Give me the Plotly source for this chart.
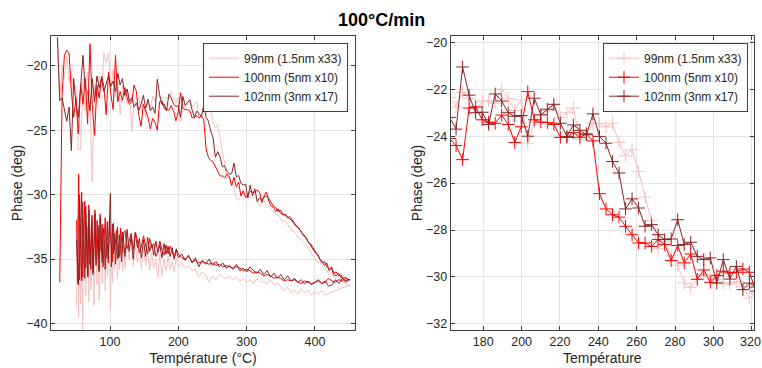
import plotly.graph_objects as go

# ---------------- data ----------------
SERIES = ["99nm (1.5nm x33)", "100nm (5nm x10)", "102nm (3nm x17)"]
COLORS = ["#f5c0c0", "#ff0000", "#8b2424"]

# heating temperature sampling grid (°C)
HEAT_T = [round(23 + 3.4 * k, 1) for k in range(127)]
# cooling temperature sampling grid (°C), denser at low temperature
COOL_T = ([450 - 5 * k for k in range(50)] +
          [200 - 3 * k for k in range(27)] +
          [round(120 - 1.5 * k, 1) for k in range(47)])

HEAT_99 = [-17.8, -22.7, -20.0, -21.0, -19.3, -21.2, -20.4, -22.2, -21.5, -26.5, -26.5, -21.0, -23.5, -20.5,
           -22.6, -29.0, -21.5, -23.0, -20.8, -22.0, -19.0, -19.8, -19.0, -21.8, -20.3, -22.5, -21.2, -23.8,
           -21.5, -22.2, -23.0, -22.0, -25.1, -22.6, -23.0, -22.4, -23.4, -22.8, -24.0, -22.7, -23.3,
           -22.35, -22.75, -22.14, -22.4, -23.0, -22.5, -22.5, -22.6, -22.0, -22.4, -22.9, -22.45, -24.3, -23.4,
           -23.1, -22.9, -22.67, -23.2, -23.0, -22.8, -24.15, -23.87, -23.45, -23.45, -23.6, -23.45, -24.27,
           -24.84, -24.58, -25.5, -26.6, -27.6, -28.8, -28.5, -29.1, -29.5, -30.26, -30.45, -30.1, -29.9, -30.0,
           -30.1, -30.25, -30.3, -30.2, -30.4, -30.9, -30.7,
           -30.5, -30.7, -30.9, -31.1, -31.3, -31.5, -31.6, -31.9, -32.1, -32.0, -32.3, -32.6, -32.8, -32.9,
           -33.1, -33.4, -33.5, -33.7, -33.9, -34.2, -34.5, -34.8, -35.0, -35.3, -35.2, -35.5, -35.6, -35.9,
           -36.2, -36.0, -36.4, -36.5, -36.3, -36.6, -36.8, -36.9, -37.0, -37.1]
HEAT_100 = [None, -36.8, -22.3, -19.2, -18.8, -19.0, -22.0, -24.0, -22.5, -25.3, -21.4, -23.0, -21.0, -24.5,
            -18.3, -23.0, -25.4, -21.5, -22.5, -20.8, -21.6, -23.8, -20.5, -22.2, -23.4, -19.2, -22.8, -22.0,
            -22.7, -21.7, -22.5, -23.0, -22.8, -21.5, -22.0, -23.8, -24.7, -23.0, -23.5, -24.0, -24.9,
            -24.1, -24.4, -25.0, -22.8, -22.75, -23.3, -23.4, -23.45, -23.1, -23.5, -24.27, -23.6, -22.1, -23.3,
            -23.4, -23.42, -23.5, -24.05, -24.05, -23.85, -24.05, -23.9, -24.2, -26.45, -27.1, -27.35, -27.45,
            -27.84, -28.2, -28.55, -28.55, -28.7, -28.4, -28.62, -29.3, -28.66, -29.4, -29.02, -30.1, -29.7,
            -30.23, -29.94, -29.75, -29.83, -29.8, -29.66, -29.8, -30.6,
            -30.1, -29.8, -30.5, -30.9, -31.0, -31.3, -31.1, -31.4, -31.6, -31.5, -31.8, -31.7, -32.0, -32.2,
            -32.4, -32.7, -32.9, -33.1, -33.4, -33.7, -33.9, -34.2, -34.5, -34.6, -35.0, -35.2, -35.5, -35.3,
            -35.9, -35.6, -36.1, -36.0, -36.3, -36.2, -36.5, -36.4, -36.6, -36.6]
HEAT_102 = [-17.8, -22.7, -22.5, -23.5, -24.3, -23.2, -26.6, -21.0, -23.0, -24.0, -21.5, -19.2, -21.8, -22.0,
            -23.5, -21.0, -22.8, -20.8, -21.7, -21.0, -22.0, -21.3, -20.8, -21.6, -21.2, -22.0, -20.6, -21.5,
            -21.0, -22.3, -21.8, -22.8, -22.5, -23.2, -22.9, -23.5, -23.0, -22.3, -23.3, -22.6, -23.5,
            -23.2, -23.7, -21.05, -22.25, -23.0, -22.98, -23.5, -22.2, -22.5, -23.0, -23.15, -23.12, -24.0,
            -22.38, -23.09, -22.85, -22.64, -23.45, -24.01, -23.52, -23.75, -23.94, -23.05, -24.01, -24.3,
            -25.08, -25.57, -27.1, -26.67, -27.06, -27.84, -27.77, -28.2, -28.41, -28.38, -27.56, -28.62,
            -28.52, -29.12, -29.26, -29.19, -30.26, -29.26, -30.09, -29.55, -30.54, -30.26, -30.43,
            -30.2, -30.1, -30.3, -30.6, -30.9, -31.0, -31.3, -31.2, -31.5, -31.6, -31.7, -31.9, -32.0, -32.3,
            -32.5, -32.6, -32.9, -33.2, -33.3, -33.7, -33.8, -34.1, -34.4, -34.6, -34.9, -35.3, -35.2, -35.6,
            -35.8, -35.7, -36.2, -36.3, -36.1, -36.4, -36.5, -36.7, -36.6, -36.6]

COOL_99 = [-37.0, None, None, None, None, None, None, -37.8, -37.4, -37.7,
           -37.5, -37.8, -37.4, -37.6, -37.3, -37.7, -37.4, -37.6, -37.2, -37.5,
           -37.1, -36.9, -37.0, -36.6, -36.9, -36.7, -36.8, -36.5, -36.9, -36.6,
           -36.8, -36.5, -36.7, -36.4, -36.6, -36.3, -36.5, -36.4, -36.2, -36.6,
           -36.3, -36.8, -36.2, -36.0, -36.4, -35.8, -35.9, -35.5, -35.7, -35.3,
           -35.6, -34.9, -36.0, -35.2, -35.8, -34.8, -35.9, -35.0, -36.3, -34.6,
           -36.4, -35.1, -35.7, -34.5, -35.9, -34.2, -35.5, -34.0, -35.8, -33.8,
           -35.3, -33.9, -35.6, -33.2, -35.1, -33.0, -35.7,
           -34.0, -36.0, -32.8, -34.6, -35.8, -33.2, -36.5, -34.1, -32.6, -35.9,
           -33.4, -36.8, -34.5, -38.9, -32.7, -35.0, -36.4, -33.3, -37.5, -34.2,
           -32.4, -36.9, -31.9, -35.5, -38.2, -32.8, -37.0, -34.6, -32.0, -38.6,
           -31.7, -35.9, -37.4, -32.5, -38.3, -33.6, -31.5, -37.8, -35.0, -32.2,
           -40.5, -31.8, -38.5, -34.0, -39.5, -31.6, -38.7]
COOL_100 = [-36.6, -36.5, -36.7, -36.6, -36.8, -36.7, -36.5, -36.8, -36.9, -36.7,
            -36.8, -36.9, -36.8, -36.7, -36.9, -36.8, -36.6, -36.7, -36.6, -36.7,
            -36.5, -36.4, -36.5, -36.3, -36.2, -36.3, -36.1, -36.0, -36.1, -35.9,
            -35.8, -35.9, -35.7, -35.6, -35.7, -35.6, -35.5, -35.6, -35.4, -35.5,
            -35.3, -35.4, -35.3, -35.2, -35.3, -35.1, -35.2, -34.8, -35.0, -34.9,
            -34.6, -34.2, -34.9, -34.5, -34.0, -34.6, -33.9, -34.7, -34.3, -33.6,
            -34.4, -34.8, -33.8, -34.1, -33.4, -34.6, -33.9, -33.2, -34.0, -34.5,
            -33.5, -32.9, -34.3, -33.0, -33.6, -34.2, -32.8,
            -33.0, -34.5, -33.4, -32.6, -34.8, -33.9, -35.0, -32.8, -33.6, -34.3,
            -32.2, -35.2, -34.0, -33.0, -32.0, -35.3, -33.8, -34.9, -31.8, -33.2,
            -35.6, -32.3, -34.4, -31.5, -35.8, -33.5, -32.0, -35.2, -31.2, -34.1,
            -36.0, -31.6, -33.4, -35.4, -30.8, -36.2, -32.5, -35.7, -30.5, -34.2,
            -36.4, -29.8, -33.2, -36.6, -28.4, -36.9, -32.0]
COOL_102 = [-36.6, -36.8, -36.5, -36.9, -36.6, -37.0, -37.1, -36.7, -36.9, -36.6,
            -36.8, -37.0, -36.7, -36.9, -36.6, -36.8, -36.5, -36.7, -36.3, -36.6,
            -36.2, -36.5, -36.1, -36.4, -35.9, -36.2, -35.8, -36.1, -35.9, -35.6,
            -36.0, -35.7, -35.9, -35.4, -35.8, -35.5, -35.7, -35.3, -35.6, -35.2,
            -35.5, -35.0, -35.4, -35.1, -35.6, -34.9, -35.3, -34.7, -35.1, -34.6,
            -34.9, -34.3, -35.0, -34.1, -34.8, -34.0, -34.6, -33.8, -34.9, -33.9,
            -34.5, -33.6, -34.7, -33.8, -34.4, -33.3, -34.8, -33.5, -34.9, -33.4,
            -34.1, -33.0, -35.0, -33.2, -34.4, -32.7, -34.8,
            -33.6, -32.9, -35.2, -34.0, -33.1, -34.9, -32.5, -33.8, -35.4, -33.0,
            -34.6, -32.3, -35.6, -29.9, -33.2, -35.0, -32.1, -34.4, -35.8, -33.5,
            -32.6, -35.3, -34.0, -31.8, -36.0, -32.4, -34.8, -35.5, -31.5, -33.9,
            -36.2, -32.0, -35.8, -34.5, -31.2, -36.4, -33.0, -30.9, -36.5, -34.2,
            -30.6, -36.7, -32.8, -30.0, -37.0, -34.5, -33.5]

LEFT_YTICKS = [-40, -35, -30, -25, -20]
LEFT_XTICKS = [100, 200, 300, 400]
RIGHT_YTICKS = [-32, -30, -28, -26, -24, -22, -20]
RIGHT_XTICKS = [180, 200, 220, 240, 260, 280, 300, 320]
# the last label (320) touches the page edge; it is written as an edge-aligned text below
RIGHT_XTICKTEXT = ["180", "200", "220", "240", "260", "280", "300", ""]
EDGE_LABEL = "320"

HEATS = [HEAT_99, HEAT_100, HEAT_102]
COOLS = [COOL_99, COOL_100, COOL_102]

# ---------------- figure ----------------
W, H = 762, 368
FONT = "Liberation Sans, Arial, Helvetica, sans-serif"
AX = "#404040"
TXT = "#262626"

fig = go.Figure()

for name, col, heat, cool in zip(SERIES, COLORS, HEATS, COOLS):
    fig.add_trace(go.Scatter(
        x=HEAT_T + COOL_T, y=heat + cool, mode="lines", name=name,
        line=dict(color=col, width=1), connectgaps=True,
        xaxis="x", yaxis="y", legend="legend"))

for name, col, heat in zip(SERIES, COLORS, HEATS):
    fig.add_trace(go.Scatter(
        x=HEAT_T, y=heat, mode="lines+markers", name=name,
        line=dict(color=col, width=1),
        marker=dict(symbol="cross-thin", size=9, color=col, line=dict(color=col, width=1)),
        xaxis="x2", yaxis="y2", legend="legend2"))

axis_common = dict(
    showline=True, linecolor=AX, linewidth=1, mirror="ticks",
    ticks="inside", ticklen=4, tickcolor=AX, tickwidth=1,
    showgrid=True, gridcolor="#e4e4e4", gridwidth=1, zeroline=False,
    tickfont=dict(family=FONT, size=12.5, color=TXT),
)
title_font = dict(family=FONT, size=14, color=TXT)

ydom = [1 - 330 / H, 1 - 36 / H]

fig.update_layout(
    width=W, height=H, margin=dict(l=0, r=0, t=0, b=0),
    paper_bgcolor="white", plot_bgcolor="white",
    font=dict(family=FONT, color=TXT),
    xaxis=dict(domain=[51 / W, 355 / W], range=[13.6, 458.6], tickvals=LEFT_XTICKS,
               title=dict(text="Température (°C)", font=title_font, standoff=5), anchor="y",
               **axis_common),
    yaxis=dict(domain=ydom, range=[-40.5, -17.7], tickvals=LEFT_YTICKS,
               title=dict(text="Phase (deg)", font=title_font, standoff=0), anchor="x",
               **axis_common),
    xaxis2=dict(domain=[450.7 / W, 754 / W], range=[163, 321.2], tickvals=RIGHT_XTICKS,
                ticktext=RIGHT_XTICKTEXT,
                title=dict(text="Température", font=title_font, standoff=5), anchor="y2",
                **axis_common),
    yaxis2=dict(domain=ydom, range=[-32.26, -19.73], tickvals=RIGHT_YTICKS,
                title=dict(text="Phase (deg)", font=title_font, standoff=0), anchor="x2",
                **axis_common),
    legend=dict(x=348 / W, y=1 - 42.7 / H, xanchor="right", yanchor="top",
                bgcolor="white", bordercolor=AX, borderwidth=1,
                font=dict(family=FONT, size=12, color=TXT), tracegroupgap=0, itemwidth=30),
    legend2=dict(x=748 / W, y=1 - 42.7 / H, xanchor="right", yanchor="top",
                 bgcolor="white", bordercolor=AX, borderwidth=1,
                 font=dict(family=FONT, size=12, color=TXT), tracegroupgap=0, itemwidth=30),
    annotations=[
        dict(text="<b>100°C/min</b>", x=0.5, y=1 - 20 / H, xref="paper", yref="paper",
             xanchor="center", yanchor="middle", showarrow=False,
             font=dict(family=FONT, size=18, color="#000000")),
        dict(text=EDGE_LABEL, x=1.0, y=1 - 342 / H, xref="paper", yref="paper",
             xanchor="right", yanchor="middle", showarrow=False, borderpad=0,
             font=dict(family=FONT, size=12.5, color=TXT)),
    ],
)

POST = ("document.body.style.margin='0';"
        "document.body.style.overflow='hidden';"
        "document.documentElement.style.overflow='hidden';")

fig.write_html("out.html", config={"displayModeBar": False, "responsive": False},
               post_script=POST)
